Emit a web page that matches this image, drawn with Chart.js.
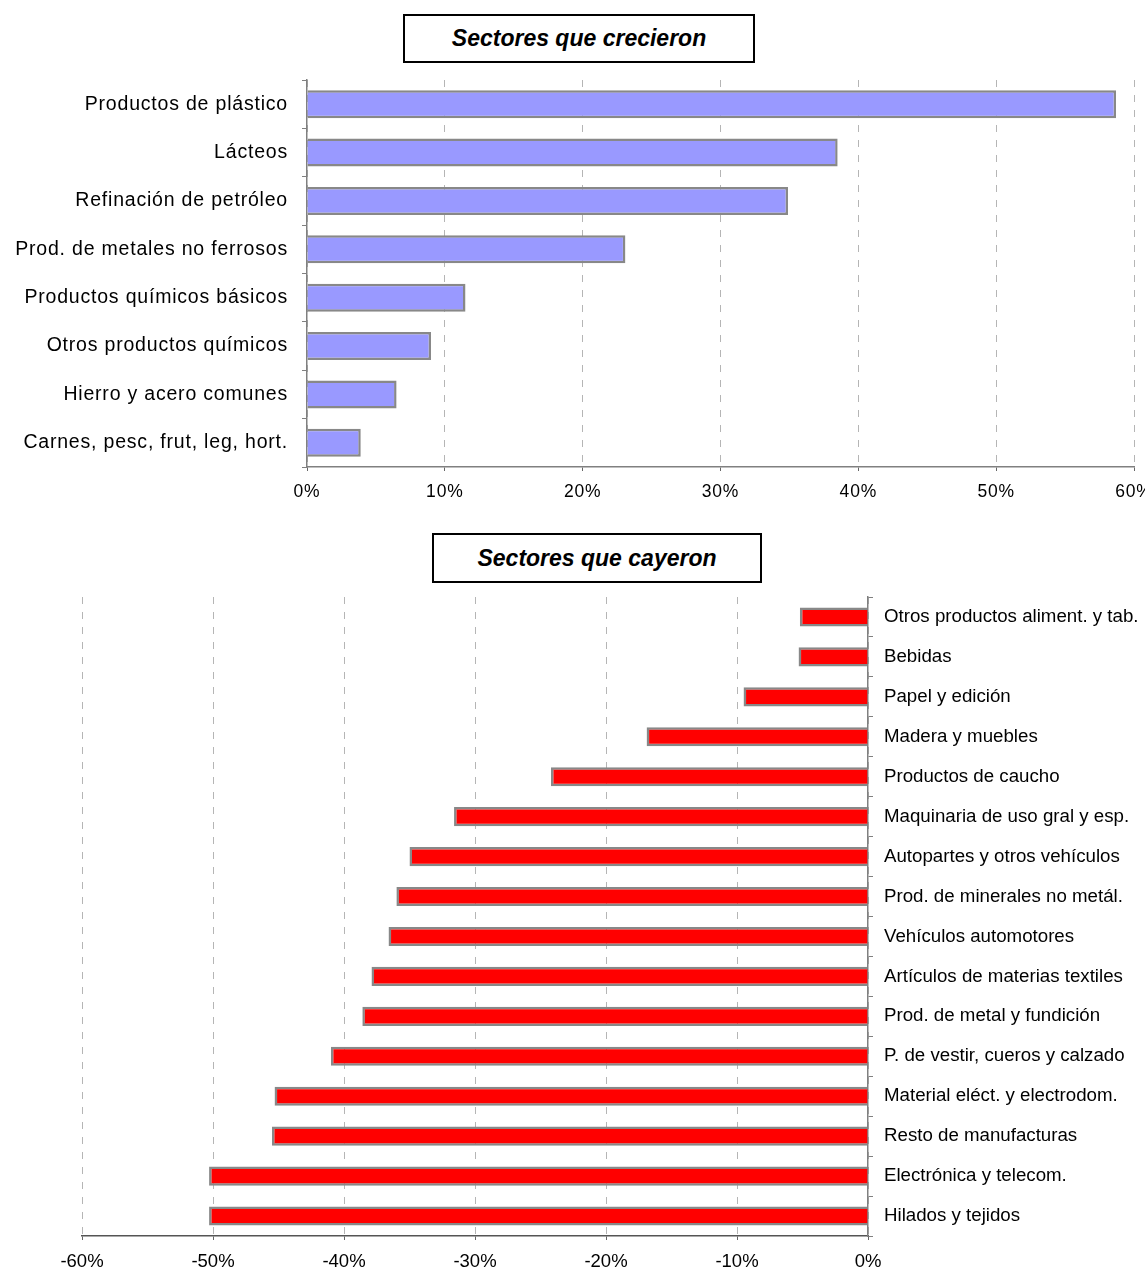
<!DOCTYPE html>
<html>
<head>
<meta charset="utf-8">
<script src="https://cdn.jsdelivr.net/npm/chart.js@4"></script>
<style>
  body { margin: 0; background: #fff; overflow: hidden; width: 1145px; height: 1271px; position: relative; }
  .box { position: absolute; box-sizing: border-box; border: 2px solid #000; background: #fff;
         font: italic bold 23px Arial, "Liberation Sans", sans-serif; color: #000; text-align: center; }
  #t1 { left: 403px; top: 14px; width: 352px; height: 49px; line-height: 45px; }
  #t2 { left: 432px; top: 533px; width: 330px; height: 50px; line-height: 46px; }
  .wrap { position: absolute; left: 0; }
</style>
</head>
<body>
<div id="t1" class="box">Sectores que crecieron</div>
<div id="t2" class="box">Sectores que cayeron</div>
<div class="wrap" style="top:70px"><canvas id="crecieron" width="1145" height="440"></canvas></div>
<div class="wrap" style="top:590px"><canvas id="cayeron" width="1145" height="681"></canvas></div>
<script>
const upSectors = ['Productos de plástico', 'Lácteos', 'Refinación de petróleo', 'Prod. de metales no ferrosos',
  'Productos químicos básicos', 'Otros productos químicos', 'Hierro y acero comunes', 'Carnes, pesc, frut, leg, hort.'];
const upValues = [58.7, 38.5, 34.9, 23.1, 11.5, 9.0, 6.5, 3.9];

const downSectors = ['Otros productos aliment. y tab.', 'Bebidas', 'Papel y edición', 'Madera y muebles',
  'Productos de caucho', 'Maquinaria de uso gral y esp.', 'Autopartes y otros vehículos', 'Prod. de minerales no metál.',
  'Vehículos automotores', 'Artículos de materias textiles', 'Prod. de metal y fundición', 'P. de vestir, cueros y calzado',
  'Material eléct. y electrodom.', 'Resto de manufacturas', 'Electrónica y telecom.', 'Hilados y tejidos'];
const downValues = [-5.2, -5.3, -9.5, -16.9, -24.2, -31.6, -35.0, -36.0, -36.6, -37.9, -38.6, -41.0, -45.3, -45.5, -50.3, -50.3];

const upTicks = [0, 60];
const downTicks = [-60, 0];

const FONT = 'Arial, "Liberation Sans", sans-serif';

// letter spacing for the top chart text
const spacing = {
  id: 'spacing',
  beforeDraw(chart, args, opts) { chart.ctx.letterSpacing = opts.px || '0px'; }
};

function noPad(scale) {
  scale.paddingLeft = 0; scale.paddingRight = 0; scale.paddingTop = 0; scale.paddingBottom = 0;
}

function draw_graph(ctx, labels, values, fill, o) {
  new Chart(ctx, {
    type: 'bar',
    data: {
      labels: labels,
      datasets: [{
        data: values,
        backgroundColor: fill,
        borderColor: '#888',
        borderWidth: 2.5,
        barPercentage: o.barPct,
        categoryPercentage: 1
      }]
    },
    plugins: [spacing],
    options: {
      indexAxis: 'y',
      responsive: false,
      animation: false,
      layout: { autoPadding: false, padding: o.padding },
      plugins: {
        legend: { display: false },
        tooltip: { enabled: false },
        spacing: { px: o.spacing }
      },
      scales: {
        x: {
          min: o.range[0],
          max: o.range[1],
          afterFit: function (s) { s.height = o.xHeight; noPad(s); },
          grid: {
            color: '#b5b5b5',
            lineWidth: 1,
            drawTicks: true,
            tickLength: 4,
            tickColor: '#666',
            tickBorderDash: []
          },
          border: { display: true, color: o.xAxisColor, width: 1.5, dash: [7, 8] },
          ticks: {
            stepSize: 10,
            padding: 11,
            color: '#000',
            font: { family: FONT, size: o.xFont },
            callback: v => v + '%'
          }
        },
        y: {
          position: o.yPos,
          afterFit: function (s) { s.width = o.yWidth; noPad(s); },
          grid: { drawOnChartArea: false, drawTicks: true, tickLength: 5, color: '#808080', offset: true },
          border: { display: true, color: '#808080', width: 1.5 },
          ticks: {
            padding: o.yPad,
            crossAlign: 'near',
            color: '#000',
            font: { family: FONT, size: o.yFont },
            autoSkip: false
          }
        }
      }
    }
  });
}

draw_graph(document.getElementById('crecieron'), upSectors, upValues, '#9999ff', {
  barPct: 0.58,
  padding: { left: 0, right: 11, top: 10, bottom: 0 },
  range: upTicks,
  xHeight: 43,
  xFont: 17.5,
  xAxisColor: '#808080',
  yPos: 'left',
  yWidth: 307,
  yPad: 14,
  yFont: 19.5,
  spacing: '0.8px'
});

draw_graph(document.getElementById('cayeron'), downSectors, downValues, '#ff0000', {
  barPct: 0.48,
  padding: { left: 82, right: 0, top: 7, bottom: 0 },
  range: downTicks,
  xHeight: 35,
  xFont: 18.5,
  xAxisColor: '#555',
  yPos: 'right',
  yWidth: 277,
  yPad: 11,
  yFont: 18.7,
  spacing: '0px'
});
</script>
</body>
</html>
